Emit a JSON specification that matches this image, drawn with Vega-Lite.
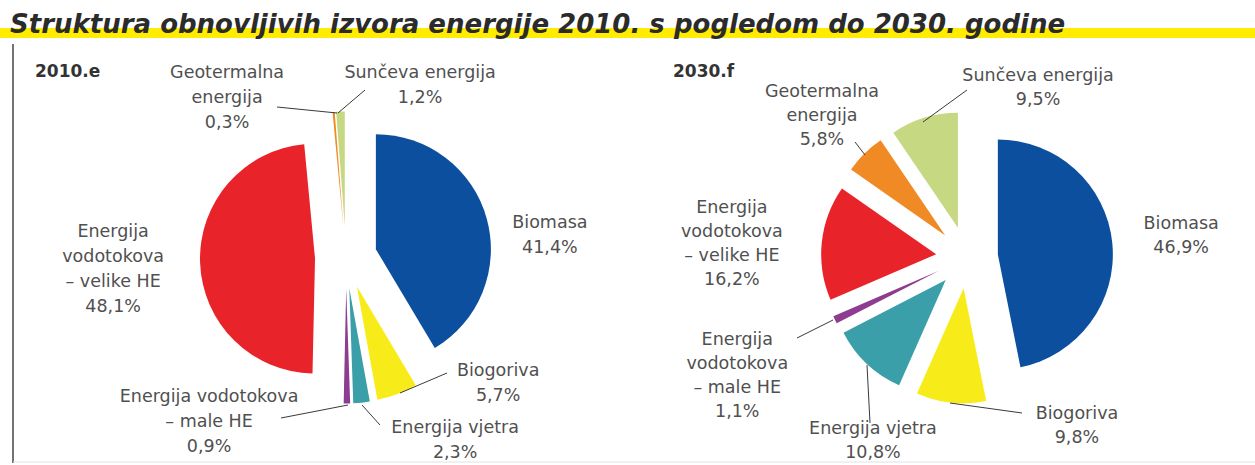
{
  "$schema": "https://vega.github.io/schema/vega-lite/v6.json",
  "width": 1255,
  "height": 465,
  "autosize": {"type": "fit", "contains": "padding"},
  "padding": 0,
  "background": "white",
  "view": {"stroke": null},
  "config": {"font": "DejaVu Sans"},
  "data": {"values": [
    {"year": "2010", "category": "Biomasa", "label": "Biomasa\n41,4%", "pct": 41.4, "ord": 0},
    {"year": "2010", "category": "Biogoriva", "label": "Biogoriva\n5,7%", "pct": 5.7, "ord": 1},
    {"year": "2010", "category": "Energija vjetra", "label": "Energija vjetra\n2,3%", "pct": 2.3, "ord": 2},
    {"year": "2010", "category": "Energija vodotokova – male HE", "label": "Energija vodotokova\n– male HE\n0,9%", "pct": 0.9, "ord": 3},
    {"year": "2010", "category": "Energija vodotokova – velike HE", "label": "Energija\nvodotokova\n– velike HE\n48,1%", "pct": 48.1, "ord": 4},
    {"year": "2010", "category": "Geotermalna energija", "label": "Geotermalna\nenergija\n0,3%", "pct": 0.3, "ord": 5},
    {"year": "2010", "category": "Sunčeva energija", "label": "Sunčeva energija\n1,2%", "pct": 1.2, "ord": 6},
    {"year": "2030", "category": "Biomasa", "label": "Biomasa\n46,9%", "pct": 46.9, "ord": 0},
    {"year": "2030", "category": "Biogoriva", "label": "Biogoriva\n9,8%", "pct": 9.8, "ord": 1},
    {"year": "2030", "category": "Energija vjetra", "label": "Energija vjetra\n10,8%", "pct": 10.8, "ord": 2},
    {"year": "2030", "category": "Energija vodotokova – male HE", "label": "Energija\nvodotokova\n– male HE\n1,1%", "pct": 1.1, "ord": 3},
    {"year": "2030", "category": "Energija vodotokova – velike HE", "label": "Energija\nvodotokova\n– velike HE\n16,2%", "pct": 16.2, "ord": 4},
    {"year": "2030", "category": "Geotermalna energija", "label": "Geotermalna\nenergija\n5,8%", "pct": 5.8, "ord": 5},
    {"year": "2030", "category": "Sunčeva energija", "label": "Sunčeva energija\n9,5%", "pct": 9.5, "ord": 6}
  ]},
  "layer": [
    {
      "data": {"values": [{}]},
      "mark": {"type": "rect", "color": "#FFEC00"},
      "encoding": {"x": {"value": 0}, "x2": {"value": 1255}, "y": {"value": 28}, "y2": {"value": 38}}
    },
    {
      "data": {"values": [{}]},
      "mark": {"type": "text", "text": "Struktura obnovljivih izvora energije 2010. s pogledom do 2030. godine", "x": 10, "y": 33, "align": "left", "baseline": "alphabetic", "fontSize": 26, "fontStyle": "italic", "fontWeight": "bold", "color": "#2b2b2b"}
    },
    {
      "data": {"values": [{}]},
      "mark": {"type": "rule", "color": "#444444", "strokeWidth": 1.5},
      "encoding": {"x": {"value": 13}, "y": {"value": 44}, "y2": {"value": 463}}
    },
    {
      "data": {"values": [{}]},
      "mark": {"type": "rule", "color": "#e2e2e2", "strokeWidth": 1},
      "encoding": {"x": {"value": 13}, "x2": {"value": 1255}, "y": {"value": 462}}
    },
    {
      "data": {"values": [{}]},
      "mark": {"type": "text", "text": "2010.e", "x": 35, "y": 72, "align": "left", "baseline": "middle", "fontSize": 17, "fontWeight": "bold", "color": "#333333"}
    },
    {
      "data": {"values": [{}]},
      "mark": {"type": "text", "text": "2030.f", "x": 673, "y": 72, "align": "left", "baseline": "middle", "fontSize": 17, "fontWeight": "bold", "color": "#333333"}
    },
    {
      "transform": [{"filter": "datum.year == '2010'"}],
      "mark": {"type": "arc", "radius": 115,
        "x": {"expr": "346 + 31*sin(PI*(datum.pct_start + datum.pct_end))"},
        "y": {"expr": "257.5 - 31*cos(PI*(datum.pct_start + datum.pct_end))"}},
      "encoding": {
        "theta": {"field": "pct", "type": "quantitative", "stack": "normalize"},
        "order": {"field": "ord", "type": "quantitative"},
        "color": {"field": "category", "type": "nominal", "legend": null,
          "scale": {"domain": ["Biomasa", "Biogoriva", "Energija vjetra", "Energija vodotokova – male HE", "Energija vodotokova – velike HE", "Geotermalna energija", "Sunčeva energija"],
                    "range": ["#0B4F9E", "#F7EC1A", "#3A9FA8", "#8E3C8F", "#E8232A", "#F08A24", "#C6D882"]}}
      }
    },
    {
      "transform": [{"filter": "datum.year == '2030'"}],
      "mark": {"type": "arc", "radius": 115,
        "x": {"expr": "967 + 31*sin(PI*(datum.pct_start + datum.pct_end))"},
        "y": {"expr": "257.5 - 31*cos(PI*(datum.pct_start + datum.pct_end))"}},
      "encoding": {
        "theta": {"field": "pct", "type": "quantitative", "stack": "normalize"},
        "order": {"field": "ord", "type": "quantitative"},
        "color": {"field": "category", "type": "nominal", "legend": null}
      }
    },
    {
      "transform": [{"filter": "datum.year == '2010'"}],
      "mark": {"type": "text", "x": 346, "y": 257.5, "radius": 170, "align": "center", "baseline": "middle", "lineBreak": "\n", "lineHeight": 25, "fontSize": 17.5, "color": "#505050",
        "dx": {"expr": "[40, 92.5, 91, -138, -63, -104.5, 80.5][datum.ord]"},
        "dy": {"expr": "[10.5, -45.5, 1, -30, -31.5, -15, -14.5][datum.ord]"}},
      "encoding": {
        "theta": {"field": "pct", "type": "quantitative", "stack": "normalize"},
        "order": {"field": "ord", "type": "quantitative"},
        "detail": {"field": "category", "type": "nominal"},
        "text": {"field": "label", "type": "nominal"}
      }
    },
    {
      "transform": [{"filter": "datum.year == '2030'"}],
      "mark": {"type": "text", "x": 967, "y": 257.5, "radius": 170, "align": "center", "baseline": "middle", "lineBreak": "\n", "lineHeight": 24, "fontSize": 17.5, "color": "#505050",
        "dx": {"expr": "[45, 128.6, 22.6, -76, -66, -25.7, 121][datum.ord]"},
        "dy": {"expr": "[-17, -12, 48, 10, -32, -44, -19.5][datum.ord]"}},
      "encoding": {
        "theta": {"field": "pct", "type": "quantitative", "stack": "normalize"},
        "order": {"field": "ord", "type": "quantitative"},
        "detail": {"field": "category", "type": "nominal"},
        "text": {"field": "label", "type": "nominal"}
      }
    },
    {
      "transform": [{"filter": "datum.year == '2010' && datum.ord != 0 && datum.ord != 4"}],
      "mark": {"type": "rule", "color": "#3a3a3a", "strokeWidth": 1},
      "encoding": {
        "x": {"value": {"expr": "[0, 400, 362, 348, 0, 277, 338][datum.ord]"}},
        "y": {"value": {"expr": "[0, 393, 405, 405, 0, 107, 113][datum.ord]"}},
        "x2": {"value": {"expr": "[0, 447, 380, 281, 0, 337, 365][datum.ord]"}},
        "y2": {"value": {"expr": "[0, 373, 425, 418, 0, 113, 90][datum.ord]"}}
      }
    },
    {
      "transform": [{"filter": "datum.year == '2030' && datum.ord != 0 && datum.ord != 4"}],
      "mark": {"type": "rule", "color": "#3a3a3a", "strokeWidth": 1},
      "encoding": {
        "x": {"value": {"expr": "[0, 950, 867, 797, 0, 865, 923][datum.ord]"}},
        "y": {"value": {"expr": "[0, 403, 365, 338, 0, 155, 122][datum.ord]"}},
        "x2": {"value": {"expr": "[0, 1022, 870, 833, 0, 855, 967][datum.ord]"}},
        "y2": {"value": {"expr": "[0, 413, 423, 320, 0, 142, 90][datum.ord]"}}
      }
    }
  ]
}
